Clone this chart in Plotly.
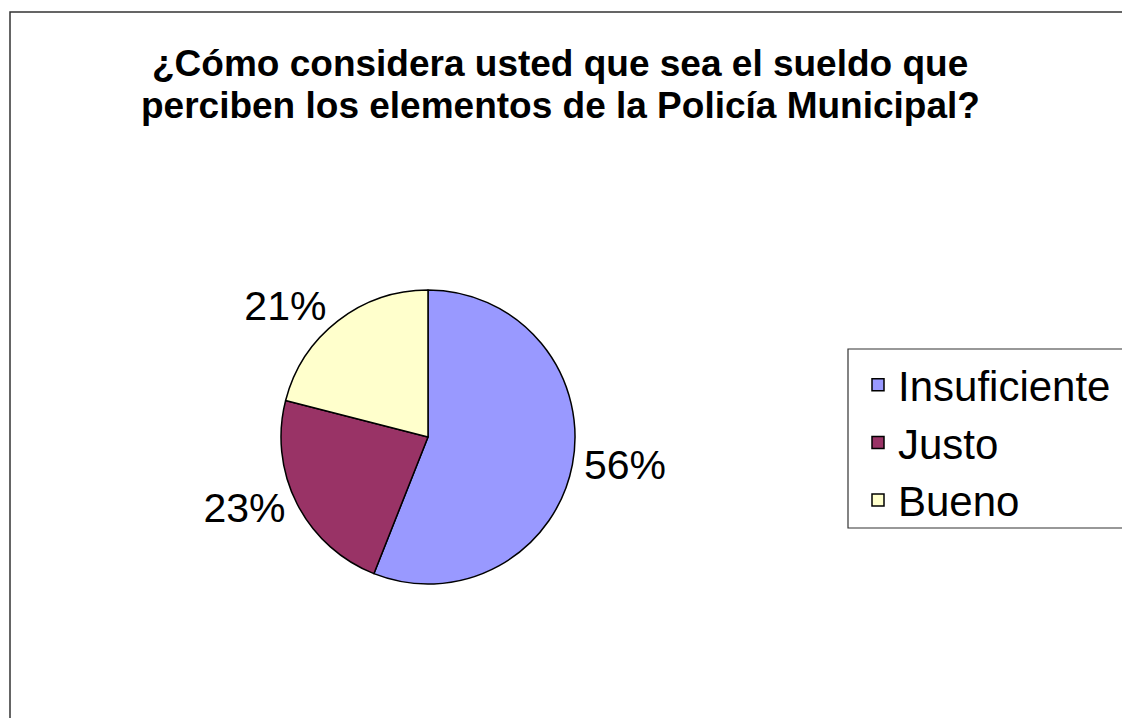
import plotly.graph_objects as go

# Encuesta: percepción del sueldo de la Policía Municipal
categorias = ['Insuficiente', 'Justo', 'Bueno']
porcentajes = [56, 23, 21]
colores = ['#9999FF', '#993366', '#FFFFCC']

lineas_titulo = ['¿Cómo considera usted que sea el sueldo que',
                 'perciben los elementos de la Policía Municipal?']

W, H = 1122, 718
cx, cy = 428 / W, 1 - 437 / H
r = 147

fig = go.Figure()
fig.add_trace(go.Pie(
    labels=categorias, values=porcentajes,
    marker=dict(colors=colores, line=dict(color='black', width=1.5)),
    sort=False, direction='clockwise', rotation=0,
    textinfo='percent', textposition='outside',
    texttemplate='%{percent:.0%}',
    outsidetextfont=dict(size=41, color='black'),
    domain=dict(x=[cx - r / W, cx + r / W], y=[cy - r / H, cy + r / H]),
    hoverinfo='label+percent',
))

# title as two lines, tighter line spacing than plotly's default
for i, linea in enumerate(lineas_titulo):
    fig.add_annotation(text=f'<b>{linea}</b>', xref='paper', yref='paper',
                       x=560 / W, y=1 - (64 + 41 * i) / H,
                       xanchor='center', yanchor='middle', showarrow=False,
                       font=dict(size=37, color='black'))

fig.update_layout(
    width=W, height=H,
    margin=dict(l=0, r=0, t=0, b=0),
    paper_bgcolor='white', plot_bgcolor='white',
    font=dict(family='Arial, Liberation Sans, sans-serif', color='black'),
    legend=dict(x=858 / W, xanchor='left', y=1 - 351 / H, yanchor='top',
                font=dict(size=42, color='black'),
                borderwidth=0, bgcolor='rgba(0,0,0,0)'),
    shapes=[
        # chart frame (runs off the right and bottom edges)
        dict(type='rect', xref='paper', yref='paper',
             x0=10 / W, x1=1.05, y0=-0.05, y1=1 - 12 / H,
             line=dict(color='#333333', width=1.5), layer='below'),
        # legend frame
        dict(type='rect', xref='paper', yref='paper',
             x0=848 / W, x1=1.05, y0=1 - 528 / H, y1=1 - 349 / H,
             line=dict(color='#333333', width=1.2), layer='below'),
    ],
)

# drop the default body margin so the figure fills the window exactly
fig.write_html('out.html', config={'displayModeBar': False},
               post_script="document.body.style.margin='0';")
